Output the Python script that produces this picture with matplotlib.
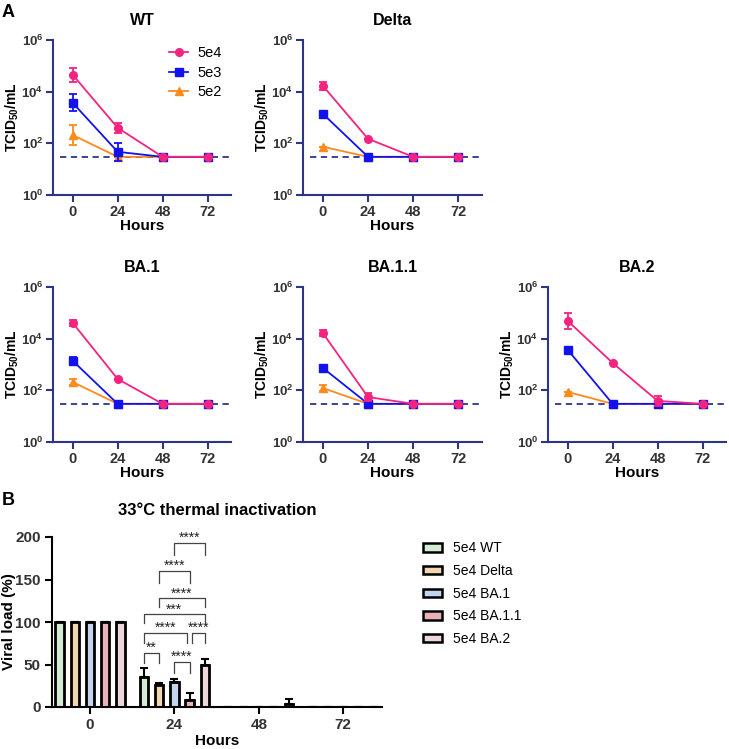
import numpy as np
import matplotlib
matplotlib.use("Agg")
import matplotlib.pyplot as plt
from matplotlib.lines import Line2D
from matplotlib.patches import Patch
from matplotlib.ticker import NullLocator

plt.rcParams['font.family'] = ['Liberation Sans', 'DejaVu Sans']
plt.rcParams['mathtext.fontset'] = 'custom'
plt.rcParams['mathtext.rm'] = 'Liberation Sans'
plt.rcParams['mathtext.bf'] = 'Liberation Sans:bold'
plt.rcParams['mathtext.it'] = 'Liberation Sans:italic'

# ---- panel A data (TCID50/mL), rows = 5e4, 5e3, 5e2 ----
hours = [0, 24, 48, 72]
lod = 30
doses = ['5e4', '5e3', '5e2']

wt_mean = [[45000, 400, 30, 30], [3700, 47, 30, 30], [210, 30, 30, 30]]
wt_err = [[0.27, 0.2, 0, 0], [0.33, 0.35, 0, 0], [0.38, 0, 0, 0]]  # log10 half-range

delta_mean = [[17000, 150, 30, 30], [1400, 30, 30, 30], [74, 30, 30, 30]]
delta_err = [[0.15, 0, 0, 0], [0, 0, 0, 0], [0, 0, 0, 0]]

ba1_mean = [[41000, 275, 30, 30], [1400, 30, 30, 30], [210, 30, 30, 30]]
ba1_err = [[0.12, 0, 0, 0], [0.15, 0, 0, 0], [0.11, 0, 0, 0]]

ba11_mean = [[16600, 55, 30, 30], [740, 30, 30, 30], [123, 30, 30, 30]]
ba11_err = [[0.13, 0.16, 0, 0], [0.13, 0, 0, 0], [0.12, 0, 0, 0]]

ba2_mean = [[49000, 1150, 39, 30], [3700, 30, 30, 30], [87, 30, 30, 30]]
ba2_err = [[0.31, 0, 0.19, 0], [0, 0, 0, 0], [0, 0, 0, 0]]

# ---- panel B data (viral load %), per variant over hours ----
variants = ['5e4 WT', '5e4 Delta', '5e4 BA.1', '5e4 BA.1.1', '5e4 BA.2']
load_wt = [100, 35, 0, 0]
load_delta = [100, 25.5, 0, 0]
load_ba1 = [100, 29.5, 0, 0]
load_ba11 = [100, 8, 0, 0]
load_ba2 = [100, 49.5, 3, 0]
sd_wt = [0, 11, 0, 0]
sd_delta = [0, 3, 0, 0]
sd_ba1 = [0, 4, 0, 0]
sd_ba11 = [0, 9, 0, 0]
sd_ba2 = [0, 7.5, 7, 0]

# significance at 24 h: (variant i, variant j, bracket height, leg bottom, label)
comparisons = [
    (2, 4, 193, 179, '****'),
    (1, 3, 160, 146, '****'),
    (1, 4, 128, 118, '****'),
    (0, 4, 109, 99, '***'),
    (0, 3, 87, 75, '****'),
    (3, 4, 87, 75, '****'),
    (0, 1, 64, 52, '**'),
    (2, 3, 53, 40, '****'),
]

W, H = 729, 749
fig = plt.figure(figsize=(W / 100, H / 100), dpi=100)

navy = '#2e3589'
tick_col = '#333333'
dose_colors = ['#f5237f', '#1212ee', '#ff8a1c']
dose_markers = ['o', 's', '^']


def px_axes(left, top, w, h):
    return fig.add_axes([left / W, 1 - (top + h) / H, w / W, h / H])


def kinetics(ax, title, means, errs):
    for k in [2, 1, 0]:
        m = np.array(means[k], dtype=float)
        e = np.array(errs[k], dtype=float)
        lo = m - m / 10 ** e
        hi = m * 10 ** e - m
        ax.errorbar(hours, m, yerr=[lo, hi], color=dose_colors[k],
                    marker=dose_markers[k], ms=5.5, lw=1.3, elinewidth=1.3,
                    capsize=3, capthick=1.3, zorder=3 + (2 - k),
                    clip_on=False)
    ax.axhline(lod, xmin=0.04, xmax=1.0, color=navy, ls='--', lw=1.3,
               dashes=(3.5, 2.5), zorder=2)
    ax.set_yscale('log')
    ax.set_ylim(1, 1e6)
    ax.set_yticks([1, 1e2, 1e4, 1e6])
    ax.set_yticklabels([r'$\mathbf{10^{0}}$', r'$\mathbf{10^{2}}$',
                        r'$\mathbf{10^{4}}$', r'$\mathbf{10^{6}}$'])
    ax.yaxis.set_minor_locator(NullLocator())
    ax.set_xlim(-10.5, 84.5)
    ax.set_xticks(hours)
    ax.set_xticklabels([str(h) for h in hours], fontweight='bold')
    for s in ['top', 'right']:
        ax.spines[s].set_visible(False)
    for s in ['left', 'bottom']:
        ax.spines[s].set_color(navy)
        ax.spines[s].set_linewidth(1.5)
    ax.tick_params(colors=navy, labelcolor=tick_col, length=5, width=1.5,
                   labelsize=10.5, pad=2)
    ax.tick_params(axis='y', labelsize=9.5, pad=2)
    ax.set_title(title, fontweight='bold', fontsize=11.5, pad=11)
    ax.set_xlabel('Hours', fontweight='bold', fontsize=11, labelpad=0)
    ax.set_ylabel(r'TCID$_{\mathbf{50}}$/mL', fontweight='bold', fontsize=10)
    ax.yaxis.set_label_coords(-0.178, 0.5)


ax_wt = px_axes(53, 40, 178, 155)
kinetics(ax_wt, 'WT', wt_mean, wt_err)
ax_delta = px_axes(303, 40, 179, 155)
kinetics(ax_delta, 'Delta', delta_mean, delta_err)
ax_ba1 = px_axes(53, 287, 178, 155)
kinetics(ax_ba1, 'BA.1', ba1_mean, ba1_err)
ax_ba11 = px_axes(303, 287, 179, 155)
kinetics(ax_ba11, 'BA.1.1', ba11_mean, ba11_err)
ax_ba2 = px_axes(548, 287, 178, 155)
kinetics(ax_ba2, 'BA.2', ba2_mean, ba2_err)

dose_handles = [Line2D([], [], color=c, marker=mk, ms=5.5, lw=1.3)
                for c, mk in zip(dose_colors, dose_markers)]
ax_wt.legend(dose_handles, doses, loc='upper left',
             bbox_to_anchor=(0.58, 1.045), frameon=False, fontsize=10.5,
             handlelength=1.3, handletextpad=0.6, labelspacing=0.38)

# ---- panel B ----
axb = px_axes(52, 537, 330, 170)
bar_colors = ['#d4ecd3', '#f2d6b1', '#c3d5ec', '#ebb1b8', '#ecd6da']
loads = [load_wt, load_delta, load_ba1, load_ba11, load_ba2]
sds = [sd_wt, sd_delta, sd_ba1, sd_ba11, sd_ba2]
groups = np.arange(len(hours))
step = 0.18
bw = 0.1
bar_x = {}
for i, (name, vals, sd) in enumerate(zip(variants, loads, sds)):
    x = groups + (i - 2) * step
    bar_x[i] = x
    vals = np.array(vals, dtype=float)
    sd = np.array(sd, dtype=float)
    axb.bar(x, vals, width=bw, color=bar_colors[i], edgecolor='black',
            linewidth=2.0, label=name, zorder=2)
    axb.errorbar(x, vals, yerr=[np.zeros_like(sd), sd], fmt='none',
                 ecolor='black', elinewidth=1.5, capsize=3, capthick=1.5,
                 zorder=3)

g24 = hours.index(24)
for i, j, yline, yleg, lab in comparisons:
    x1 = bar_x[i][g24]
    x2 = bar_x[j][g24]
    if (i, j) == (0, 3):
        x2 -= 0.03
    if (i, j) == (3, 4):
        x1 += 0.03
    axb.plot([x1, x1, x2, x2], [yleg, yline, yline, yleg], color='#444444',
             lw=0.9, zorder=4, clip_on=False)
    axb.text((x1 + x2) / 2, yline + 1, lab, ha='center', va='baseline',
             fontsize=10, color='#222222')

axb.set_xlim(-0.45, 3.46)
axb.set_ylim(0, 200)
axb.set_yticks([0, 50, 100, 150, 200])
axb.set_xticks(groups)
axb.set_xticklabels([str(h) for h in hours])
for lab in axb.get_xticklabels() + axb.get_yticklabels():
    lab.set_fontweight('bold')
for s in ['top', 'right']:
    axb.spines[s].set_visible(False)
for s in ['left', 'bottom']:
    axb.spines[s].set_linewidth(1.5)
axb.tick_params(length=5, width=1.5, labelsize=11, colors='black',
                labelcolor=tick_col, pad=3)
axb.set_xlabel('Hours', fontweight='bold', fontsize=11, labelpad=1.5)
axb.set_ylabel('Viral load (%)', fontweight='bold', fontsize=11)
axb.yaxis.set_label_coords(-0.108, 0.5)
axb.set_title('33°C thermal inactivation', fontweight='bold', fontsize=12,
              pad=16)

leg_handles = [Patch(facecolor=c, edgecolor='black', linewidth=1.8)
               for c in bar_colors]
fig.legend(leg_handles, variants, loc='upper left',
           bbox_to_anchor=(410 / W, 1 - 529 / H), frameon=False,
           fontsize=10, handlelength=1.4, handleheight=0.55,
           handletextpad=0.8, labelspacing=0.62)

fig.text(2 / W, 1 - 4 / H, 'A', fontsize=13, fontweight='bold', va='top')
fig.text(2 / W, 1 - 492 / H, 'B', fontsize=13, fontweight='bold', va='top')

fig.savefig('out.png', dpi=100)
